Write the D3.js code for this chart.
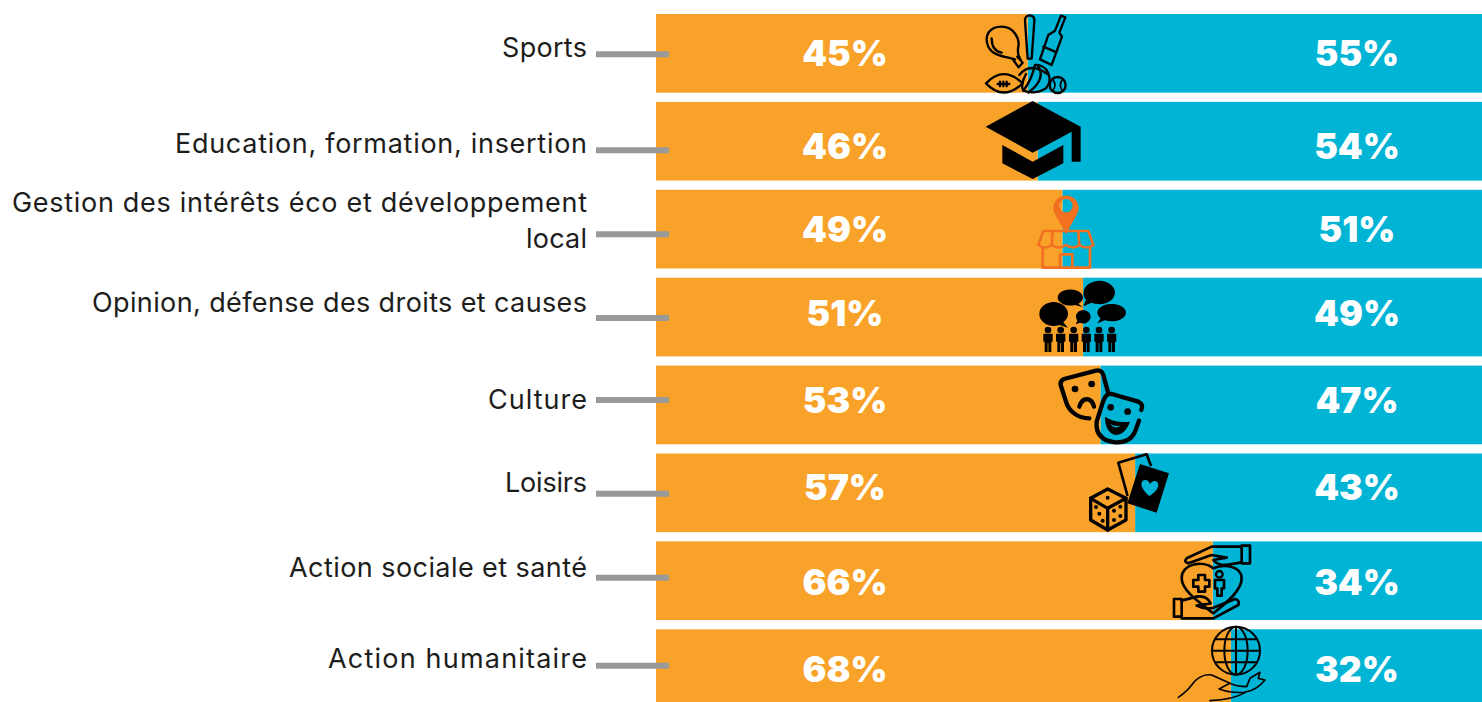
<!DOCTYPE html>
<html>
<head>
<meta charset="utf-8">
<script src="https://cdnjs.cloudflare.com/ajax/libs/d3/7.8.5/d3.min.js"></script>
<style>
	html, body { margin: 0; padding: 0; background: #fff; overflow: hidden; }
	text { font-family: Inter, "Open Sans", sans-serif; }
	.cat { font-size: 27px; font-weight: 400; fill: #1d1d1b; text-anchor: end; }
	.pct { font-size: 35.5px; font-weight: 900; fill: #fff; text-anchor: middle; dominant-baseline: central; }
	.ico { fill: none; stroke: #000; stroke-linejoin: round; stroke-linecap: round; }
</style>
</head>
<body>
<svg id="chart" width="1482" height="702"></svg>
<script>
/* --------------------- data ---------------------- */
const categories = ['Sports', 'Education, formation, insertion', 'Gestion des intérêts éco et développement local',
	'Opinion, défense des droits et causes', 'Culture', 'Loisirs', 'Action sociale et santé', 'Action humanitaire'];
// printed labels
const leftLabels = [45, 46, 49, 51, 53, 57, 66, 68];
const rightLabels = [55, 54, 51, 49, 47, 43, 34, 32];
// where the colour change actually sits on each bar
const splitShares = [45.0, 46.2, 49.2, 51.7, 53.8, 58.0, 67.4, 69.6];

/* --------------------- layout tweaks ---------------------- */
const W = 1482, H = 702;
const bandStep = 87.9, barTop = 14, bandGap = 0.105;
// the original placed these by hand, so they are nudged from the bar centre
const leaderNudge = [1, 9, 5, 1, -5, 1, -3, -3];
const catNudge = [-5, 3, -8, -14, -5, -10, -13, -10];
const pctNudge = [0, 5, 0, -4, -4, -5, 2, 1];
// label widths, the fallback font is narrower than the original one
const catWidths = [85, 412, 575, 495, 99, 82, 298, 259];

let svg = d3.select('#chart');

let x = d3.scaleLinear().domain([0, 100]).range([656, W]);
let y = d3.scaleBand()
	.domain(categories)
	.range([barTop, barTop + bandStep * (categories.length - bandGap)])
	.paddingInner(bandGap)
	.paddingOuter(0);

let rows = categories.map((c, i) => ({cat: c, i: i, left: leftLabels[i], right: rightLabels[i], split: splitShares[i]}));

// the source is a slightly soft raster, edges are blurred a touch
let defs = svg.append('defs');
defs.append('filter').attr('id', 'soft')
	.attr('x', '-1%').attr('y', '-5%').attr('width', '102%').attr('height', '110%')
	.append('feGaussianBlur').attr('stdDeviation', 0.7);

let bars = svg.append('g').attr('filter', 'url(#soft)');
bars.selectAll('rect.right').data(rows).enter().append('rect')
	.attr('class', 'right')
	.attr('x', d => x(d.split))
	.attr('y', d => y(d.cat))
	.attr('width', d => x(100) + 10 - x(d.split))
	.attr('height', y.bandwidth())
	.attr('fill', '#00b4d5');
bars.selectAll('rect.left').data(rows).enter().append('rect')
	.attr('class', 'left')
	.attr('x', x(0))
	.attr('y', d => y(d.cat))
	.attr('width', d => x(d.split) - x(0))
	.attr('height', y.bandwidth())
	.attr('fill', '#f9a22b');

// leader lines
svg.selectAll('line.lead').data(rows).enter().append('line')
	.attr('class', 'lead')
	.attr('x1', 596).attr('x2', 669)
	.attr('y1', d => y(d.cat) + y.bandwidth() / 2 + leaderNudge[d.i])
	.attr('y2', d => y(d.cat) + y.bandwidth() / 2 + leaderNudge[d.i])
	.attr('stroke', '#999').attr('stroke-width', 6);

// category labels, the long one wraps on two lines
let catLabels = svg.selectAll('text.cat').data(rows).enter().append('text')
	.attr('class', 'cat')
	.attr('x', 587)
	.attr('y', d => y(d.cat) + y.bandwidth() / 2 + catNudge[d.i] + 9);
catLabels.each(function(d) {
	let sel = d3.select(this);
	if (d.i === 2) {
		sel.append('tspan').attr('x', 587).attr('dy', -18).attr('textLength', catWidths[d.i])
			.text('Gestion des intérêts éco et développement');
		sel.append('tspan').attr('x', 587).attr('dy', 36).attr('textLength', 61).text('local');
	} else {
		sel.attr('textLength', catWidths[d.i]).text(d.cat);
	}
});

// percent labels
svg.selectAll('text.pl').data(rows).enter().append('text')
	.attr('class', 'pct pl')
	.attr('x', 845)
	.attr('y', d => y(d.cat) + y.bandwidth() / 2 + pctNudge[d.i])
	.text(d => d.left + '%');
svg.selectAll('text.pr').data(rows).enter().append('text')
	.attr('class', 'pct pr')
	.attr('x', 1357)
	.attr('y', d => y(d.cat) + y.bandwidth() / 2 + pctNudge[d.i])
	.text(d => d.right + '%');

/* --------------------- pictograms ---------------------- */
// drawn at 3x from the zoomed picture, each group scales back down
function icon(ox, oy) {
	return svg.append('g').attr('transform', 'translate(' + ox + ',' + oy + ') scale(0.3333)');
}
function strokes(g, paths, w, color) {
	g.selectAll(null).data(paths).enter().append('path')
		.attr('class', 'ico').attr('d', d => d)
		.attr('stroke-width', w).style('stroke', color || '#000');
}
function solid(g, paths, color, rule) {
	g.selectAll(null).data(paths).enter().append('path')
		.attr('d', d => d).attr('fill', color || '#000').attr('fill-rule', rule || 'nonzero');
}

// sports
let sports = icon(960, 0);
strokes(sports, [
	'M165 178C140 170 100 170 85 140C70 105 90 80 125 80C160 80 180 115 175 140C172 155 175 170 182 180',
	'M160 180L176 202L188 188L172 170',
	'M95 115C95 140 105 155 125 158',
	'M195 62Q195 46 210 46Q225 48 223 65L215 176H203Z',
	'M303 47L316 52L298 98L306 110L275 195L240 178L265 105L285 92Z',
	'M250 140L285 155',
	'M78 250Q130 195 188 250Q130 305 78 250Z',
	'M113 252H148M120 245V259M130 245V259M140 245V259',
	'M178 225Q210 185 262 222',
	'M225 195A40 42 0 0 1 258 265Q225 285 190 272Q215 240 225 195',
	'M232 195Q262 235 205 278',
	'M190 272Q180 255 198 222'
], 7);
sports.append('circle').attr('class', 'ico').attr('cx', 293).attr('cy', 255).attr('r', 24).attr('stroke-width', 7);
strokes(sports, ['M278 238Q292 255 278 273', 'M308 238Q294 255 308 273'], 5);

// education
let edu = icon(960, 0);
solid(edu, [
	'M218 303L362 380V485H335V395L218 458L77 380Z',
	'M127 435L218 485L310 435V490L218 537L127 490Z'
]);

// local development, orange line icon
let shop = icon(1010, 185);
solid(shop, ['M168 148L135 88A38 38 0 1 1 201 88ZM168 42A20 20 0 1 0 168 82A20 20 0 1 0 168 42Z'], '#f37021', 'evenodd');
strokes(shop, [
	'M100 138H235L250 180Q230 195 208 180Q190 195 168 180Q145 195 125 180Q105 195 85 180Z',
	'M128 138L125 180M205 138L208 180',
	'M98 188V248H240V188',
	'M150 248V208H187V248'
], 8, '#f37021');

// opinion, speech bubbles over people
let opinion = icon(1010, 185);
solid(opinion, [
	'M88 387A43 35 0 1 1 160 412L174 428L148 420A43 35 0 0 1 88 387Z',
	'M143 338A38 24 0 1 1 205 356L218 366L195 360A38 24 0 0 1 143 338Z',
	'M221 322A47 35 0 1 1 245 353L220 364L228 345A47 35 0 0 1 221 322Z',
	'M198 395A22 20 0 1 1 210 413L198 418L202 406A22 20 0 0 1 198 395Z',
	'M262 384A43 26 0 1 1 285 406L262 415L272 400A43 26 0 0 1 262 384Z'
]);
let people = opinion.selectAll(null).data([114, 152, 191, 229, 267, 305]).enter().append('g')
	.attr('transform', d => 'translate(' + d + ',0)');
people.append('circle').attr('cy', 435).attr('r', 10);
people.append('path').attr('d', 'M-14 446H14V470H10V501H1V474H-1V501H-10V470H-14Z');

// culture, two masks
let masks = icon(1040, 360);
strokes(masks, [
	'M148 175C110 175 85 150 78 125L62 75Q60 62 72 57L168 32Q184 28 190 45L205 100',
	'M118 140Q125 115 145 118Q158 122 162 140',
	'M215 102L295 125Q312 132 304 150',
	'M215 102Q198 100 190 122L170 185Q165 240 225 247Q270 250 285 215L297 182'
], 13);
solid(masks, ['M195 170Q225 190 270 185Q255 225 225 225Q195 215 195 170Z']);
solid(masks, ['M210 192Q225 200 242 197Q225 210 210 192Z'], '#00b4d5');
masks.selectAll(null).data([[105, 87], [155, 72], [212, 142], [263, 155]]).enter().append('circle')
	.attr('cx', d => d[0]).attr('cy', d => d[1]).attr('r', 10);

// leisure, dice and cards
let leisure = icon(1040, 360);
strokes(leisure, ['M262 405L235 308L320 283L332 315'], 8);
solid(leisure, ['M300 312L387 340L350 458L262 430Z']);
solid(leisure, ['M328 408C300 385 298 362 315 360C324 360 328 366 330 372C335 364 345 360 352 366C360 378 350 395 328 408Z'], '#00b4d5');
strokes(leisure, [
	'M203 387L258 415V480L203 510L152 480V415Z',
	'M152 415L203 445L258 415',
	'M203 445V510'
], 10);
leisure.selectAll(null).data([[203, 413], [168, 441], [178, 461], [188, 482], [241, 440], [222, 452], [241, 468], [222, 480]]).enter().append('circle')
	.attr('cx', d => d[0]).attr('cy', d => d[1]).attr('r', 6);

// social action and health
let care = icon(1150, 535);
strokes(care, [
	'M275 35H185L110 70Q100 80 115 85L185 60L230 68L190 75Q205 95 240 88L275 82',
	'M275 32H300V85H275Z',
	'M190 100C160 75 95 85 95 130C95 170 160 210 190 235C220 210 275 170 275 130C275 95 225 85 190 100',
	'M145 120H165V135H178V155H165V170H145V155H130V135H145Z',
	'M195 135H222V160H215V182H202V160H195Z',
	'M72 192H95V245H72Z',
	'M95 197L140 185Q170 180 182 205L140 212Q165 225 190 218L255 192Q270 195 265 210L190 250H95'
], 8);
care.append('circle').attr('class', 'ico').attr('cx', 208).attr('cy', 118).attr('r', 10).attr('stroke-width', 7);

// humanitarian, globe over a hand
let globe = icon(1150, 535);
globe.append('circle').attr('class', 'ico').attr('cx', 258).attr('cy', 347).attr('r', 72).attr('stroke-width', 6);
globe.append('ellipse').attr('class', 'ico').attr('cx', 258).attr('cy', 347).attr('rx', 35).attr('ry', 72).attr('stroke-width', 6);
strokes(globe, ['M258 275V419', 'M186 347H330', 'M196 313H320', 'M196 382H320'], 6);
strokes(globe, [
	'M85 487Q110 470 125 450Q150 415 185 420L240 445Q260 455 290 455L300 430L330 412L325 430L345 435Q320 465 290 470Q250 495 180 497',
	'M208 462Q240 475 285 472',
	'M240 445Q225 452 208 462'
], 5);
</script>
</body>
</html>
